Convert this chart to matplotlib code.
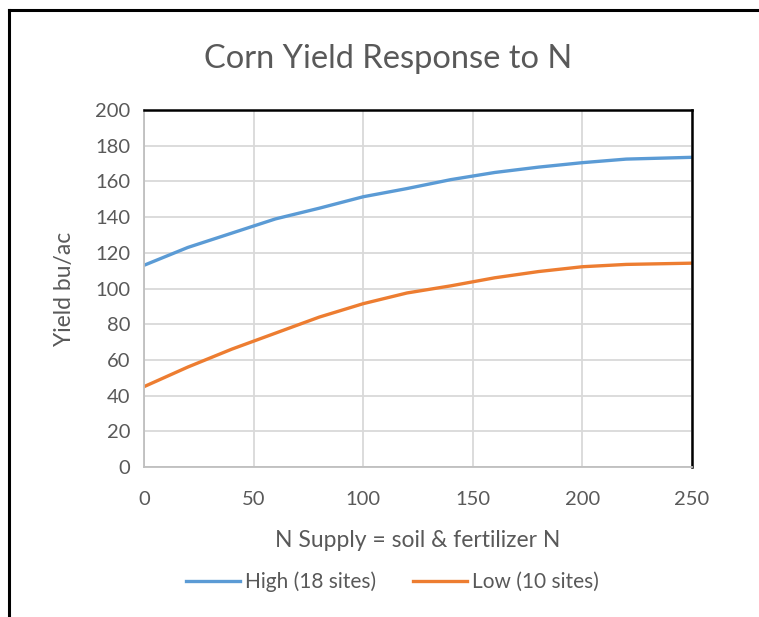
"""Corn yield response to N supply, Excel-style line chart."""
import matplotlib
matplotlib.use("Agg")
import matplotlib.pyplot as plt
from matplotlib.lines import Line2D

n_supply = [0, 20, 40, 60, 80, 100, 120, 140, 160, 180, 200, 220, 250]
high_yield = [113, 123, 131, 139, 145, 151.4, 156, 161, 165, 168, 170.5, 172.5, 173.5]
low_yield = [45, 56, 66, 75, 84, 91.5, 97.5, 101.5, 106, 109.5, 112.2, 113.5, 114.2]
series_labels = ["High (18 sites)", "Low (10 sites)"]
x_ticks = [0, 50, 100, 150, 200, 250]
y_ticks = list(range(0, 201, 20))

plt.rcParams["font.family"] = ["Lato", "DejaVu Sans"]
text_color = "#595959"

fig = plt.figure(figsize=(7.59, 6.17), dpi=100)
ax = fig.add_axes([0.1897, 0.2431, 0.722, 0.5786])

ax.plot(n_supply, high_yield, color="#5b9bd5", lw=2.4, label=series_labels[0])
ax.plot(n_supply, low_yield, color="#ed7d31", lw=2.4, label=series_labels[1])

ax.set_xlim(0, 250)
ax.set_ylim(0, 200)
ax.set_xticks(x_ticks)
ax.set_yticks(y_ticks)
ax.grid(True, color="#d9d9d9", lw=1.3)
ax.set_axisbelow(True)
ax.tick_params(length=0, labelsize=14.5, colors=text_color)
ax.tick_params(axis="x", pad=17)
ax.tick_params(axis="y", pad=10)

for side in ("top", "right"):
    ax.spines[side].set_color("black")
    ax.spines[side].set_linewidth(1.8)
for side in ("left", "bottom"):
    ax.spines[side].set_color("#bfbfbf")
    ax.spines[side].set_linewidth(1.3)

fig.text(0.511, 0.905, "Corn Yield Response to N", fontsize=23.5, color=text_color,
         ha="center", va="center")
ax.set_xlabel("N Supply = soil & fertilizer N", fontsize=16.5, color=text_color, labelpad=16)
ax.set_ylabel("Yield bu/ac", fontsize=16.5, color=text_color, labelpad=14)

leg = fig.legend(loc="center", bbox_to_anchor=(0.517, 0.057), ncol=2,
                 frameon=False, fontsize=15, handlelength=2.6, handletextpad=0.2,
                 columnspacing=1.8)
for t in leg.get_texts():
    t.set_color(text_color)

# outer chart frame (left and top edges visible in the crop)
fig.add_artist(Line2D([0.012, 0.012], [0, 0.984], color="black", lw=2.2,
                      transform=fig.transFigure))
fig.add_artist(Line2D([0.012, 1.0], [0.984, 0.984], color="black", lw=2.2,
                      transform=fig.transFigure))

fig.savefig("out.png", dpi=100)
